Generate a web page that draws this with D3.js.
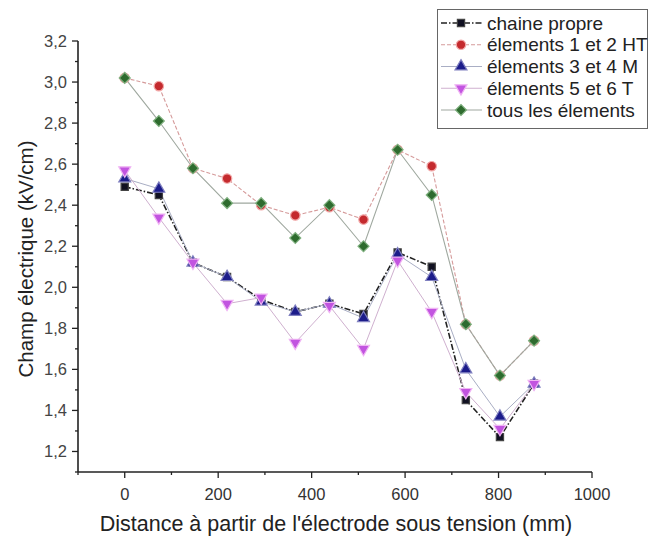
<!DOCTYPE html>
<html>
<head>
<meta charset="utf-8">
<script src="https://cdn.jsdelivr.net/npm/d3@7"></script>
<style>
  body { margin: 0; background: #fff; }
  svg { display: block; font-family: "Liberation Sans", Arial, sans-serif; }
</style>
</head>
<body>
<div id="chart"></div>
<script>
"use strict";

// distances (mm)
var distances = [0, 73, 146, 219, 292, 365, 438, 511, 584, 657, 730, 803, 876];

// champ électrique (kV/cm), one array per série
var chainePropre = [2.49, 2.45, 2.12, 2.05, 1.94, 1.88, 1.92, 1.87, 2.17, 2.10, 1.45, 1.27, 1.53];
var elements12HT = [3.02, 2.98, 2.58, 2.53, 2.40, 2.35, 2.39, 2.33, 2.67, 2.59, 1.82, 1.57, 1.74];
var elements34M  = [2.53, 2.48, 2.12, 2.05, 1.93, 1.88, 1.92, 1.85, 2.16, 2.05, 1.60, 1.37, 1.53];
var elements56T  = [2.57, 2.34, 2.12, 1.92, 1.95, 1.73, 1.91, 1.70, 2.13, 1.88, 1.49, 1.31, 1.53];
var tousElements = [3.02, 2.81, 2.58, 2.41, 2.41, 2.24, 2.40, 2.20, 2.67, 2.45, 1.82, 1.57, 1.74];

var seriesNames = ["chaine propre", "élements 1 et 2 HT", "élements 3 et 4 M", "élements 5 et 6 T", "tous les élements"];

var xTicks = [0, 200, 400, 600, 800, 1000];
var yTicks = [1.2, 1.4, 1.6, 1.8, 2.0, 2.2, 2.4, 2.6, 2.8, 3.0, 3.2];

var series = [
  { name: seriesNames[0], values: chainePropre, shape: "square",  fill: "#111122", halo: "#444", line: "#222", dash: "6,2,1.5,2", lw: 1.6 },
  { name: seriesNames[1], values: elements12HT, shape: "circle",  fill: "#c42a2e", halo: "#f2a7a7", line: "#d59a9a", dash: "4,2", lw: 1.1 },
  { name: seriesNames[2], values: elements34M,  shape: "up",      fill: "#1c1c8a", halo: "#8080c0", line: "#a9aec4", dash: null, lw: 1 },
  { name: seriesNames[3], values: elements56T,  shape: "down",    fill: "#c254e0", halo: "#f0b4f4", line: "#cfb0cf", dash: null, lw: 1 },
  { name: seriesNames[4], values: tousElements, shape: "diamond", fill: "#2e6b2e", halo: "#7fb07f", line: "#9fa89f", dash: null, lw: 1.1 }
];

var width = 654, height = 537;

var svg = d3.select("#chart")
  .append("svg")
  .attr("width", width)
  .attr("height", height);

// Scales
var x = d3.scaleLinear().domain([-100, 1000]).range([78, 592]);
var y = d3.scaleLinear().domain([1.1, 3.2]).range([472, 41]);

var fmt = function(d) { return d3.format(".1f")(d).replace(".", ","); };

// X axis
var xAxis = svg.append("g")
  .attr("transform", "translate(0," + y(1.1) + ")");
xAxis.append("line")
  .attr("x1", x(-100)).attr("x2", x(1000))
  .attr("stroke", "#222").attr("stroke-width", 1.6);
xAxis.selectAll(".minor")
  .data(d3.range(-100, 1001, 100))
  .enter().append("line")
  .attr("x1", function(d) { return x(d); })
  .attr("x2", function(d) { return x(d); })
  .attr("y1", 0)
  .attr("y2", function(d) { return d % 200 === 0 ? 6 : 3; })
  .attr("stroke", "#222").attr("stroke-width", 1.3);
xAxis.selectAll(".lbl")
  .data(xTicks)
  .enter().append("text")
  .attr("x", function(d) { return x(d); })
  .attr("y", 28)
  .attr("text-anchor", "middle")
  .attr("font-size", 16.5)
  .attr("fill", "#333")
  .text(function(d) { return d; });

// Y axis
var yAxis = svg.append("g")
  .attr("transform", "translate(" + x(-100) + ",0)");
yAxis.append("line")
  .attr("y1", y(1.1)).attr("y2", y(3.2))
  .attr("stroke", "#222").attr("stroke-width", 1.6);
yAxis.selectAll(".minor")
  .data(d3.range(11, 33).map(function(d) { return d / 10; }))
  .enter().append("line")
  .attr("y1", function(d) { return y(d); })
  .attr("y2", function(d) { return y(d); })
  .attr("x1", 0)
  .attr("x2", function(d) { return Math.round(d * 10) % 2 === 0 ? -6 : -3; })
  .attr("stroke", "#222").attr("stroke-width", 1.3);
yAxis.selectAll(".lbl")
  .data(yTicks)
  .enter().append("text")
  .attr("x", -11)
  .attr("y", function(d) { return y(d) + 6; })
  .attr("text-anchor", "end")
  .attr("font-size", 16.5)
  .attr("fill", "#444")
  .text(fmt);

// Axis titles
svg.append("text")
  .attr("x", 336).attr("y", 531)
  .attr("text-anchor", "middle")
  .attr("font-size", 21.5)
  .attr("fill", "#222")
  .text("Distance à partir de l'électrode sous tension (mm)");

svg.append("text")
  .attr("transform", "translate(33," + 259 + ") rotate(-90)")
  .attr("text-anchor", "middle")
  .attr("font-size", 20.5)
  .attr("fill", "#222")
  .text("Champ électrique (kV/cm)");

// Markers
var symbolPath = function(shape) {
  if (shape === "square") return d3.symbol().type(d3.symbolSquare).size(52)();
  if (shape === "circle") return d3.symbol().type(d3.symbolCircle).size(70)();
  if (shape === "up" || shape === "down") return d3.symbol().type(d3.symbolTriangle).size(62)();
  return d3.symbol().type(d3.symbolSquare).size(60)();
};
var symbolRotate = function(shape) {
  if (shape === "down") return " rotate(180)";
  if (shape === "diamond") return " rotate(45)";
  return "";
};

var line = d3.line()
  .x(function(d) { return x(d[0]); })
  .y(function(d) { return y(d[1]); });

// Lines
series.forEach(function(s) {
  svg.append("path")
    .datum(d3.zip(distances, s.values))
    .attr("d", line)
    .attr("fill", "none")
    .attr("stroke", s.line)
    .attr("stroke-width", s.lw)
    .attr("stroke-dasharray", s.dash);
});

// Points
series.forEach(function(s) {
  svg.append("g").selectAll("path")
    .data(d3.zip(distances, s.values))
    .enter().append("path")
    .attr("d", symbolPath(s.shape))
    .attr("transform", function(d) {
      return "translate(" + x(d[0]) + "," + y(d[1]) + ")" + symbolRotate(s.shape);
    })
    .attr("fill", s.fill)
    .attr("stroke", s.halo)
    .attr("stroke-width", 1.2);
});

// Legend
var legend = svg.append("g");
legend.append("rect")
  .attr("x", 437.5).attr("y", 9.5)
  .attr("width", 210).attr("height", 119)
  .attr("fill", "#fff")
  .attr("stroke", "#666").attr("stroke-width", 1);

var rowY = d3.scalePoint().domain(seriesNames).range([23, 110]);

series.forEach(function(s) {
  var g = legend.append("g").attr("transform", "translate(0," + rowY(s.name) + ")");
  g.append("line")
    .attr("x1", 441).attr("x2", 482)
    .attr("stroke", s.line)
    .attr("stroke-width", s.lw)
    .attr("stroke-dasharray", s.dash);
  g.append("path")
    .attr("d", symbolPath(s.shape))
    .attr("transform", "translate(461,0)" + symbolRotate(s.shape))
    .attr("fill", s.fill)
    .attr("stroke", s.halo)
    .attr("stroke-width", 1.2);
  g.append("text")
    .attr("x", 487).attr("y", 6.5)
    .attr("font-size", 19)
    .attr("fill", "#222")
    .text(s.name);
});
</script>
</body>
</html>
